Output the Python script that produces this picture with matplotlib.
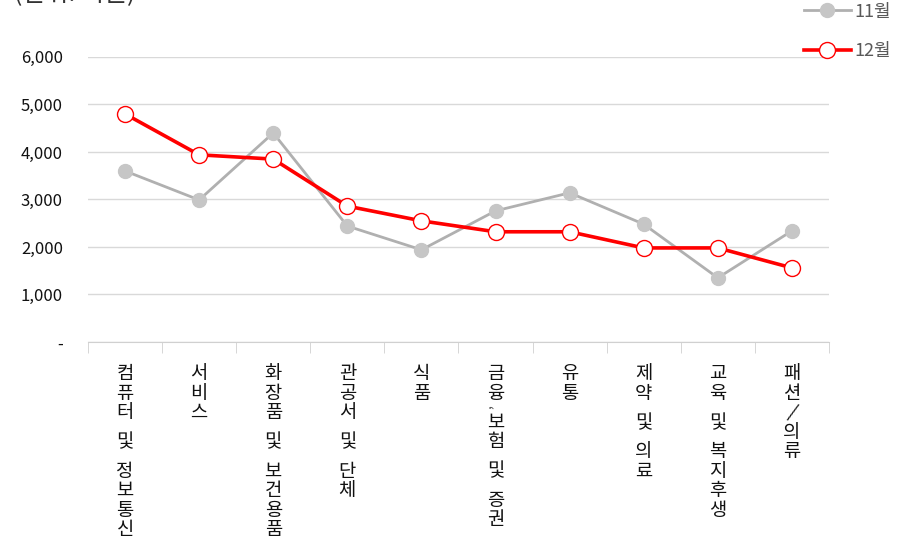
import numpy as np
import matplotlib.pyplot as plt
from matplotlib.ticker import FuncFormatter, FixedLocator

plt.rcParams['font.family'] = ['Noto Sans CJK KR', 'DejaVu Sans']

categories = ["컴퓨터 및 정보통신", "서비스", "화장품 및 보건용품", "관공서 및 단체", "식품",
              "금융, 보험 및 증권", "유통", "제약 및 의료", "교육 및 복지후생", "패션/의류"]
nov = [3600, 2990, 4400, 2440, 1940, 2760, 3140, 2480, 1350, 2340]
dec = [4800, 3940, 3850, 2860, 2550, 2320, 2320, 1980, 1980, 1560]

fig = plt.figure(figsize=(9.07, 5.45), dpi=100)
ax = fig.add_axes([0.097, 0.3725, 0.817, 0.523])

x = np.arange(len(categories))
ax.plot(x, nov, color='#b0b0b0', lw=2.0, marker='o', ms=10,
        mfc='#c6c6c6', mec='#c6c6c6', label='11월', zorder=3)
ax.plot(x, dec, color='#ff0000', lw=2.6, marker='o', ms=11.5,
        mfc='white', mec='#ff0000', mew=1.0, label='12월', zorder=4)

ax.set_xlim(-0.5, len(categories) - 0.5)
ax.set_ylim(0, 6000)
ax.set_yticks(range(0, 6001, 1000))
ax.yaxis.set_major_formatter(FuncFormatter(lambda v, p: '-' if v == 0 else f'{int(v):,}'))
ax.tick_params(axis='y', length=0, pad=18, labelsize=12, labelcolor='#111111')
ax.grid(axis='y', color='#d9d9d9', lw=1)
ax.set_axisbelow(True)

for s in ['top', 'right', 'left']:
    ax.spines[s].set_visible(False)
ax.spines['bottom'].set_color('#d0d0d0')

# category boundary ticks
ax.xaxis.set_minor_locator(FixedLocator(np.arange(-0.5, len(categories), 1)))
ax.tick_params(axis='x', which='minor', length=8, color='#d0d0d0')
ax.set_xticks(x)
ax.set_xticklabels([])
ax.tick_params(axis='x', which='major', length=0)

# vertical (stacked) category labels, one glyph per step
step, gap = 14.0, 7.0
for i, cat in enumerate(categories):
    off = -23.0
    for ch in cat:
        if ch == ' ':
            off -= gap
            continue
        if ch == ',':
            ax.annotate(ch, (i, 0), xycoords=('data', 'axes fraction'),
                        xytext=(-6, off + 4), textcoords='offset points',
                        ha='center', va='center', fontsize=10, color='#555555',
                        rotation=90, annotation_clip=False)
            continue
        ax.annotate(ch, (i, 0), xycoords=('data', 'axes fraction'),
                    xytext=(0, off), textcoords='offset points',
                    ha='center', va='center', fontsize=13.5, color='#111111',
                    rotation=-20 if ch == '/' else 0, annotation_clip=False)
        off -= step

fig.text(0.015, 0.988, '(단위: 억원)', fontsize=18, color='#333333', va='bottom')

fig.legend(loc='upper right', bbox_to_anchor=(1.0, 1.025), frameon=False,
           fontsize=13, labelcolor='#595959', labelspacing=1.2,
           handlelength=2.6, handletextpad=0.2)

plt.savefig('out.png', dpi=100)
